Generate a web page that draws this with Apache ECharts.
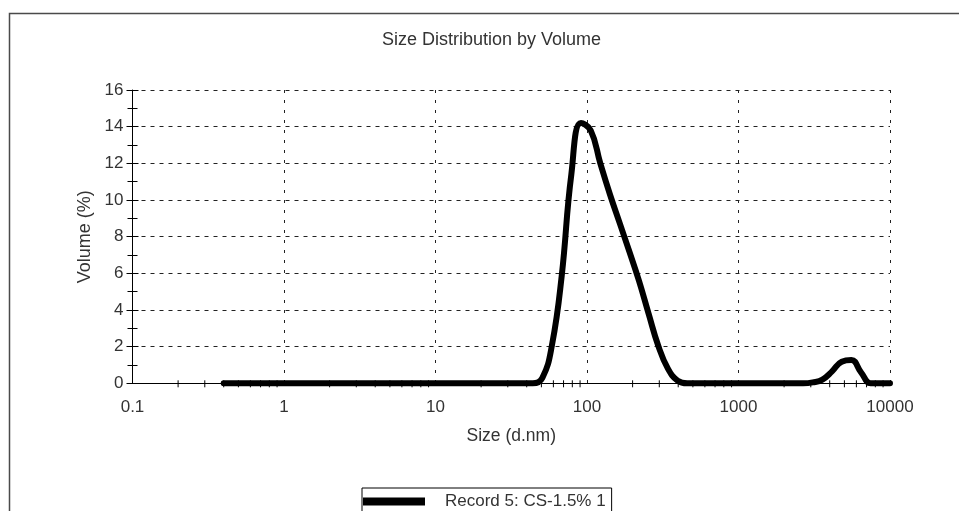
<!DOCTYPE html>
<html>
<head>
<meta charset="utf-8">
<script src="https://cdn.jsdelivr.net/npm/echarts@6/dist/echarts.min.js"></script>
<style>
  html, body { margin: 0; padding: 0; background: #fff; }
  #chart { width: 959px; height: 511px; }
</style>
</head>
<body>
<div id="chart"></div>
<script>
// Size classes (d.nm), log-spaced bins of the DLS report
const sizes = [
  0.4, 0.4632, 0.5365, 0.6213, 0.7195, 0.8332, 0.9649, 1.117, 1.294, 1.499,
  1.736, 2.01, 2.328, 2.696, 3.122, 3.615, 4.187, 4.849, 5.615, 6.503,
  7.531, 8.721, 10.1, 11.7, 13.54, 15.69, 18.17, 21.04, 24.36, 28.21,
  32.67, 37.84, 43.82, 50.75, 58.77, 68.06, 78.82, 91.28, 105.7, 122.4,
  141.8, 164.2, 190.1, 220.2, 255, 295.3, 342, 396.1, 458.7, 531.2,
  615.1, 712.4, 825, 955.4, 1106, 1281, 1484, 1718, 1990, 2305,
  2669, 3091, 3580, 4145, 4801, 5560, 6439, 7456, 8635, 10000
];

// Volume (%) in each size class
const volumes = [
  0, 0, 0, 0, 0, 0, 0, 0, 0, 0,
  0, 0, 0, 0, 0, 0, 0, 0, 0, 0,
  0, 0, 0, 0, 0, 0, 0, 0, 0, 0,
  0, 0, 0, 0.3, 2.1, 5.85, 11.4, 14.2, 13.8, 12.0,
  10.3, 8.75, 7.2, 5.6, 3.8, 2.05, 0.8, 0.15, 0, 0,
  0, 0, 0, 0, 0, 0, 0, 0, 0, 0,
  0, 0.05, 0.2, 0.65, 1.18, 1.27, 0.6, 0, 0, 0
];

const seriesName = 'Record 5: CS-1.5% 1';
const titleText = 'Size Distribution by Volume';
const xTickLabels = ['0.1', '1', '10', '100', '1000', '10000'];
const yTicks = { min: 0, max: 16, step: 2 };
// Minor log ticks (2..9 in each decade)
const minorTicks = [
  0.2, 0.3, 0.4, 0.5, 0.6, 0.7, 0.8, 0.9,
  2, 3, 4, 5, 6, 7, 8, 9,
  20, 30, 40, 50, 60, 70, 80, 90,
  200, 300, 400, 500, 600, 700, 800, 900,
  2000, 3000, 4000, 5000, 6000, 7000, 8000, 9000
];

const FONT = '"Liberation Sans", Arial, sans-serif';
const TXT = '#333';

const chart = echarts.init(document.getElementById('chart'), null, { renderer: 'canvas' });

const option = {
  backgroundColor: '#fff',
  animation: false,
  textStyle: { fontFamily: FONT },
  title: {
    text: titleText,
    left: 382,
    top: 31,
    padding: 0,
    textStyle: { fontFamily: FONT, fontSize: 18, fontWeight: 'normal', color: TXT }
  },
  graphic: [{
    type: 'rect',
    silent: true,
    z: -10,
    shape: { x: 9.5, y: 13.5, width: 1000, height: 600 },
    style: { fill: null, stroke: '#4a4a4a', lineWidth: 1.5 }
  }],
  legend: {
    data: [seriesName],
    left: 362,
    top: 488,
    icon: 'rect',
    itemWidth: 62,
    itemHeight: 8,
    padding: [5, 6, 8, 1],
    borderColor: '#000',
    borderWidth: 1,
    textStyle: { fontFamily: FONT, fontSize: 17, color: TXT, padding: [0, 0, 0, 15] }
  },
  grid: { left: 132.5, right: 69, top: 90, bottom: 127.7 },
  xAxis: {
    type: 'log',
    logBase: 10,
    min: 0.1,
    max: 10000,
    name: 'Size (d.nm)',
    nameLocation: 'middle',
    nameGap: 44,
    nameTextStyle: { fontFamily: FONT, fontSize: 17.5, color: TXT },
    axisLine: { show: true, lineStyle: { color: '#000', width: 1 } },
    axisTick: { show: false },
    minorTick: { show: false },
    axisLabel: {
      margin: 16,
      fontFamily: FONT,
      fontSize: 17,
      color: TXT,
      formatter: v => xTickLabels[Math.round(Math.log10(v)) + 1]
    },
    splitLine: { show: true, lineStyle: { color: '#222', width: 1, type: [3, 7] } }
  },
  yAxis: [{
    type: 'value',
    min: yTicks.min,
    max: yTicks.max,
    interval: yTicks.step,
    name: 'Volume (%)',
    nameLocation: 'middle',
    nameGap: 34,
    nameTextStyle: { fontFamily: FONT, fontSize: 18, color: TXT },
    axisLine: { show: true, lineStyle: { color: '#000', width: 1 } },
    axisTick: { show: true, length: 6, lineStyle: { color: '#000' } },
    minorTick: { show: true, splitNumber: 2, length: 5, lineStyle: { color: '#000' } },
    axisLabel: { margin: 9, fontFamily: FONT, fontSize: 17, color: TXT },
    splitLine: { show: true, lineStyle: { color: '#222', width: 1, type: [4, 5] } }
  }, {
    // inner half of the crossing ticks on the volume axis
    type: 'value',
    position: 'left',
    min: yTicks.min,
    max: yTicks.max,
    interval: yTicks.step,
    axisLine: { show: false },
    axisTick: { show: true, inside: true, length: 6, lineStyle: { color: '#000' } },
    minorTick: { show: true, splitNumber: 2, length: 5, lineStyle: { color: '#000' } },
    axisLabel: { show: false },
    splitLine: { show: false }
  }],
  series: [{
    name: 'minor ticks',
    type: 'custom',
    silent: true,
    z: 1,
    clip: false,
    data: minorTicks.map(v => [v, 0]),
    encode: { x: 0, y: 1 },
    renderItem: (params, api) => {
      const p = api.coord([api.value(0), api.value(1)]);
      return {
        type: 'line',
        shape: { x1: p[0], y1: p[1] - 3, x2: p[0], y2: p[1] + 4 },
        style: { stroke: '#000', lineWidth: 1 }
      };
    }
  }, {
    name: seriesName,
    type: 'line',
    z: 5,
    smooth: 0.45,
    showSymbol: false,
    symbol: 'none',
    clip: false,
    color: '#000',
    lineStyle: { color: '#000', width: 6, cap: 'round', join: 'round' },
    data: sizes.map((s, i) => [s, volumes[i]])
  }]
};

chart.setOption(option);
</script>
</body>
</html>
